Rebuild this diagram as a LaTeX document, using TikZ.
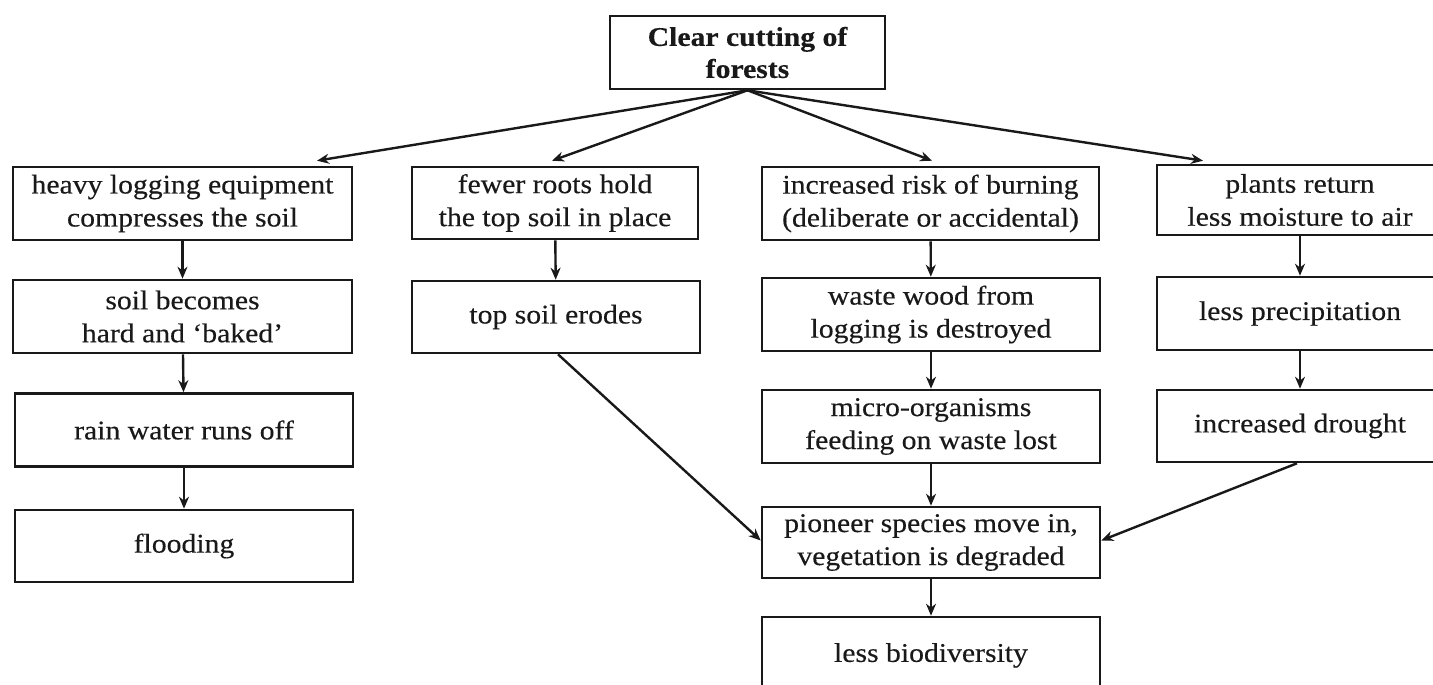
\documentclass[tikz,border=0pt]{standalone}
\usepackage{fontspec}
\setmainfont{Liberation Serif}[FakeStretch=1.1,FakeBold=0.3]
\usetikzlibrary{arrows.meta}
\begin{document}
\begin{tikzpicture}[x=1pt,y=-1pt,
  box/.style={draw=black!90, line width=2.6pt, align=center, inner sep=0pt,
    font=\fontsize{27}{33}\selectfont, text=black!90},
  conn/.style={draw=black!90, line width=2.4pt, -{Stealth[length=12pt,width=10pt]}}]
\useasboundingbox (0,0) rectangle (1433,685);
\clip (0,0) rectangle (1433,685);
\fill[white] (0,0) rectangle (1433,685);
% top
\node[box, minimum width=275pt, minimum height=73pt, font=\fontsize{27}{32}\selectfont\bfseries] (top) at (747.5,52.5) {Clear cutting of\\forests};
% column A
\node[box, minimum width=339pt, minimum height=73pt] (a1) at (182.5,203.5) {heavy logging equipment\\compresses the soil};
\node[box, minimum width=339pt, minimum height=73pt] (a2) at (182.5,316.5) {soil becomes\\hard and ‘baked’};
\node[box, minimum width=338pt, minimum height=73pt] (a3) at (184,430) {rain water runs off};
\node[box, minimum width=338pt, minimum height=72pt] (a4) at (184,546) {flooding};
% column B
\node[box, minimum width=286pt, minimum height=72pt] (b1) at (555,203) {fewer roots hold\\the top soil in place};
\node[box, minimum width=288pt, minimum height=72pt] (b2) at (556,317) {top soil erodes};
% column C
\node[box, minimum width=337pt, minimum height=73pt] (c1) at (930.5,203.5) {increased risk of burning\\(deliberate or accidental)};
\node[box, minimum width=338pt, minimum height=73pt] (c2) at (931,314.5) {waste wood from\\logging is destroyed};
\node[box, minimum width=338pt, minimum height=73pt] (c3) at (931,426.5) {micro-organisms\\feeding on waste lost};
\node[box, minimum width=338pt, minimum height=71pt] (c4) at (931,542.5) {pioneer species move in,\\vegetation is degraded};
\node[box, minimum width=338pt, minimum height=83pt] (c5) at (931,658.5) {\raisebox{12pt}{less biodiversity}};
% column D
\node[box, minimum width=286pt, minimum height=70pt] (d1) at (1300,200) {plants return\\less moisture to air};
\node[box, minimum width=286pt, minimum height=73pt] (d2) at (1300,313.5) {less precipitation};
\node[box, minimum width=286pt, minimum height=72pt] (d3) at (1300,426) {increased drought};
% connectors from top
\draw[conn] (top.south) -- ([xshift=134.5pt,yshift=5pt]a1.north);
\draw[conn] (top.south) -- ([xshift=-3pt,yshift=5pt]b1.north);
\draw[conn] (top.south) -- ([xshift=1.5pt,yshift=5pt]c1.north);
\draw[conn] (top.south) -- ([xshift=-97pt,yshift=3pt]d1.north);
% vertical chains
\draw[conn] (a1) -- (a2);
\draw[conn] (a2) -- (a3);
\draw[conn] (a3) -- (a4);
\draw[conn] (b1) -- (b2);
\draw[conn] (c1) -- (c2);
\draw[conn] (c2) -- (c3);
\draw[conn] (c3) -- (c4);
\draw[conn] (c4) -- (c5);
\draw[conn] (d1) -- (d2);
\draw[conn] (d2) -- (d3);
% diagonals into pioneer box
\draw[conn] ([xshift=2pt]b2.south) -- ([yshift=2pt]c4.west);
\draw[conn] ([xshift=-3pt]d3.south) -- ([yshift=2pt]c4.east);
\end{tikzpicture}
\end{document}
